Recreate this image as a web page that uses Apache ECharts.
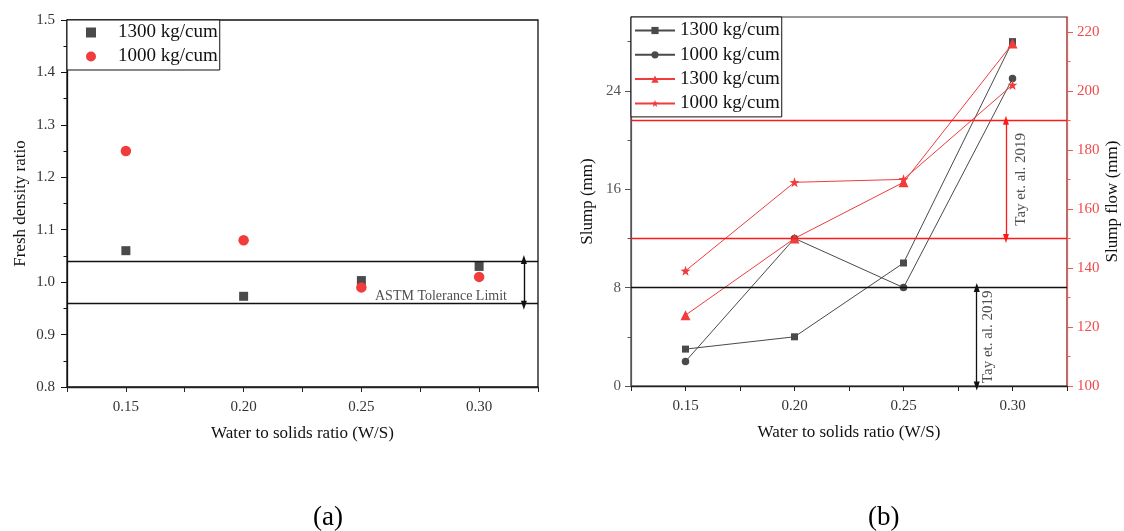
<!DOCTYPE html>
<html>
<head>
<meta charset="utf-8">
<script src="https://cdn.jsdelivr.net/npm/echarts@6/dist/echarts.min.js"></script>
<style>
  html, body { margin: 0; padding: 0; background: #fff; }
  #chart { width: 1124px; height: 531px; }
</style>
</head>
<body>
<div id="chart"></div>
<script>
// Water to solids ratios tested
const wsRatio = [0.15, 0.20, 0.25, 0.30];

// (a) Fresh density ratio
const density1300 = [1.06, 0.973, 1.003, 1.03];
const density1000 = [1.25, 1.08, 0.99, 1.01];
const astmLimits = [0.956, 1.043];

// (b) Slump (mm, left axis) and slump flow (mm, right axis)
const slump1300 = [3, 4, 10, 28];
const slump1000 = [2, 12, 8, 25];
const flow1300 = [124, 150, 169, 216];
const flow1000 = [139, 169, 170, 202];
const tayFlowLimits = [150, 190];
const taySlumpLimit = 8;

// Tick labels
const xTickLabels = [0.15, 0.20, 0.25, 0.30];
const densityTicks = [0.8, 0.9, 1.0, 1.1, 1.2, 1.3, 1.4, 1.5];
const slumpTicks = [0, 8, 16, 24];
const slumpMinorTicks = [4, 12, 20, 28];
const flowTicks = [100, 120, 140, 160, 180, 200, 220];
const flowMinorTicks = [110, 130, 150, 170, 190, 210];

const legendText = {
  d1300: '1300 kg/cum', d1000: '1000 kg/cum',
  s1300: '1300 kg/cum', s1000: '1000 kg/cum',
  f1300: '1300 kg/cum', f1000: '1000 kg/cum'
};

const SERIF = '"Liberation Serif", "Times New Roman", Times, serif';
const GRAY = '#4a4a4a';
const RED = '#f03c3c';
const PURE_RED = '#ff1a1a';
const SQUARE = 'path://M0,0L10,0L10,10L0,10Z';

const pairs = (xs, ys) => xs.map((x, i) => [x, ys[i]]);

const chart = echarts.init(document.getElementById('chart'), null, { renderer: 'canvas' });

function xAxisFor(gridIndex) {
  return {
    type: 'value', gridIndex: gridIndex, min: 0.125, max: 0.325, interval: 0.025,
    name: 'Water to solids ratio (W/S)', nameLocation: 'middle', nameGap: 38,
    nameTextStyle: { fontFamily: SERIF, fontSize: 17, color: '#111' },
    axisLine: { show: true, onZero: false, lineStyle: { color: '#222', width: 1.3 } },
    axisTick: { show: true, inside: false, length: 5, lineStyle: { color: '#222', width: 1 } },
    axisLabel: {
      margin: 13, fontFamily: SERIF, fontSize: 15, color: '#333',
      customValues: xTickLabels,
      formatter: v => v.toFixed(2)
    },
    splitLine: { show: false }
  };
}

function arrowLine(x, y0, y1) {
  return [
    { coord: [x, y0], symbol: 'triangle', symbolSize: [6, 9] },
    { coord: [x, y1], symbol: 'triangle', symbolSize: [6, 9] }
  ];
}

const option = {
  animation: false,
  backgroundColor: '#fff',
  title: [
    { text: '(a)', left: 308, top: 499, textStyle: { fontFamily: SERIF, fontSize: 27, fontWeight: 'normal', color: '#000' } },
    { text: '(b)', left: 863, top: 499, textStyle: { fontFamily: SERIF, fontSize: 27, fontWeight: 'normal', color: '#000' } }
  ],
  grid: [
    { left: 67, top: 20, width: 471, height: 367, outerBoundsMode: 'none', containLabel: false,
      show: true, borderColor: '#111', borderWidth: 1.3, backgroundColor: 'transparent' },
    { left: 631, top: 17, width: 436, height: 369, outerBoundsMode: 'none', containLabel: false,
      show: true, borderColor: '#333', borderWidth: 1.2, backgroundColor: 'transparent' }
  ],
  legend: [
    {
      orient: 'vertical', left: 67, top: 20, itemWidth: 10, itemHeight: 10, itemGap: 5,
      padding: [3, 2, 4, 19],
      borderColor: '#111', borderWidth: 1, backgroundColor: '#fff',
      data: [{ name: 'd1300', icon: 'rect' }, { name: 'd1000', icon: 'circle' }],
      formatter: n => legendText[n],
      textStyle: { fontFamily: SERIF, fontSize: 19, color: '#111', lineHeight: 18, padding: [0, 0, 0, 17] },
      selectedMode: false
    },
    {
      orient: 'vertical', left: 631, top: 17, itemWidth: 40, itemHeight: 9, itemGap: 5.3,
      padding: [4, 2, 4, 3],
      borderColor: '#111', borderWidth: 1, backgroundColor: '#fff',
      data: ['s1300', 's1000', 'f1300', 'f1000'],
      formatter: n => legendText[n],
      textStyle: { fontFamily: SERIF, fontSize: 19, color: '#111', lineHeight: 18 },
      selectedMode: false
    }
  ],
  xAxis: [xAxisFor(0), xAxisFor(1)],
  yAxis: [
    {
      type: 'value', gridIndex: 0, min: 0.8, max: 1.5, interval: 0.1,
      name: 'Fresh density ratio', nameLocation: 'middle', nameGap: 38,
      nameTextStyle: { fontFamily: SERIF, fontSize: 17, color: '#111' },
      axisLine: { show: true, onZero: false, lineStyle: { color: '#111', width: 1.3 } },
      axisTick: { show: true, length: 6, lineStyle: { color: '#111' } },
      minorTick: { show: true, splitNumber: 2, length: 3.5, lineStyle: { color: '#111' } },
      axisLabel: { margin: 12, fontFamily: SERIF, fontSize: 15, color: '#333', customValues: densityTicks, formatter: v => v.toFixed(1) },
      splitLine: { show: false }, minorSplitLine: { show: false }
    },
    {
      type: 'value', gridIndex: 1, min: 0, max: 30, position: 'left',
      name: 'Slump (mm)', nameLocation: 'middle', nameGap: 35,
      nameTextStyle: { fontFamily: SERIF, fontSize: 17, color: '#111' },
      axisLine: { show: true, onZero: false, lineStyle: { color: '#555', width: 1.2 } },
      axisTick: { show: true, length: 6, customValues: slumpTicks, lineStyle: { color: '#555' } },
      axisLabel: { margin: 10, fontFamily: SERIF, fontSize: 15, color: '#555', customValues: slumpTicks },
      splitLine: { show: false }
    },
    {
      type: 'value', gridIndex: 1, min: 100, max: 225, position: 'right',
      name: 'Slump flow (mm)', nameLocation: 'middle', nameGap: 37,
      nameTextStyle: { fontFamily: SERIF, fontSize: 17, color: '#111' },
      axisLine: { show: true, onZero: false, lineStyle: { color: '#f45555', width: 1.2 } },
      axisTick: { show: true, length: 6, customValues: flowTicks, lineStyle: { color: '#f45555' } },
      axisLabel: { margin: 10, fontFamily: SERIF, fontSize: 15, color: '#f04b4b', customValues: flowTicks },
      splitLine: { show: false }
    },
    {
      // short minor ticks for the slump axis
      type: 'value', gridIndex: 1, min: 0, max: 30, position: 'left',
      axisLine: { show: false },
      axisTick: { show: true, length: 3.5, customValues: slumpMinorTicks, lineStyle: { color: '#555' } },
      axisLabel: { show: false }, splitLine: { show: false }
    },
    {
      // short minor ticks for the slump flow axis
      type: 'value', gridIndex: 1, min: 100, max: 225, position: 'right',
      axisLine: { show: false },
      axisTick: { show: true, length: 3.5, customValues: flowMinorTicks, lineStyle: { color: '#f45555' } },
      axisLabel: { show: false }, splitLine: { show: false }
    }
  ],
  series: [
    // ---------- (a) fresh density ratio ----------
    {
      name: 'd1300', type: 'scatter', xAxisIndex: 0, yAxisIndex: 0,
      symbol: 'rect', symbolSize: 9, itemStyle: { color: GRAY, opacity: 1 },
      data: pairs(wsRatio, density1300), z: 3
    },
    {
      name: 'd1000', type: 'scatter', xAxisIndex: 0, yAxisIndex: 0,
      symbol: 'circle', symbolSize: 10.5, itemStyle: { color: RED, opacity: 1 },
      data: pairs(wsRatio, density1000), z: 4
    },
    {
      name: 'astm', type: 'line', xAxisIndex: 0, yAxisIndex: 0, data: [], silent: true,
      markLine: {
        silent: true, animation: false, label: { show: false },
        lineStyle: { color: '#111', width: 1.4, type: 'solid' },
        symbol: ['none', 'none'],
        data: [
          { yAxis: astmLimits[0] },
          { yAxis: astmLimits[1] },
          arrowLine(0.319, astmLimits[0], astmLimits[1])
        ]
      }
    },
    {
      name: 'astmText', type: 'scatter', xAxisIndex: 0, yAxisIndex: 0, silent: true,
      symbolSize: 0, data: [[0.2838, 0.972]],
      label: { show: true, position: 'inside', formatter: 'ASTM Tolerance Limit', fontFamily: SERIF, fontSize: 14, color: '#222' }
    },
    // ---------- (b) slump and slump flow ----------
    {
      name: 's1300', type: 'line', xAxisIndex: 1, yAxisIndex: 1,
      symbol: SQUARE, symbolSize: 7, showSymbol: true,
      itemStyle: { color: GRAY }, lineStyle: { color: GRAY, width: 1 },
      data: pairs(wsRatio, slump1300), z: 3
    },
    {
      name: 's1000', type: 'line', xAxisIndex: 1, yAxisIndex: 1,
      symbol: 'circle', symbolSize: 7.5, showSymbol: true,
      itemStyle: { color: GRAY }, lineStyle: { color: GRAY, width: 1 },
      data: pairs(wsRatio, slump1000), z: 3
    },
    {
      name: 'f1300', type: 'line', xAxisIndex: 1, yAxisIndex: 2,
      symbol: 'triangle', symbolSize: 10, showSymbol: true,
      itemStyle: { color: RED }, lineStyle: { color: RED, width: 1 },
      data: pairs(wsRatio, flow1300), z: 4
    },
    {
      name: 'f1000', type: 'line', xAxisIndex: 1, yAxisIndex: 2,
      symbol: 'path://M0,-10 L2.35,-3.24 L9.51,-3.09 L3.8,1.24 L5.88,8.09 L0,4 L-5.88,8.09 L-3.8,1.24 L-9.51,-3.09 L-2.35,-3.24 Z',
      symbolSize: 10, showSymbol: true,
      itemStyle: { color: RED }, lineStyle: { color: RED, width: 1 },
      data: pairs(wsRatio, flow1000), z: 4
    },
    {
      name: 'tayFlow', type: 'line', xAxisIndex: 1, yAxisIndex: 2, data: [], silent: true,
      markLine: {
        silent: true, animation: false, label: { show: false },
        lineStyle: { color: PURE_RED, width: 1.3, type: 'solid' },
        symbol: ['none', 'none'],
        data: [
          { yAxis: tayFlowLimits[0] },
          { yAxis: tayFlowLimits[1] },
          arrowLine(0.297, tayFlowLimits[0], tayFlowLimits[1])
        ]
      }
    },
    {
      name: 'taySlump', type: 'line', xAxisIndex: 1, yAxisIndex: 1, data: [], silent: true,
      markLine: {
        silent: true, animation: false, label: { show: false },
        lineStyle: { color: '#111', width: 1.3, type: 'solid' },
        symbol: ['none', 'none'],
        data: [
          { yAxis: taySlumpLimit },
          arrowLine(0.2836, 0, taySlumpLimit)
        ]
      }
    },
    {
      name: 'tayFlowText', type: 'scatter', xAxisIndex: 1, yAxisIndex: 2, silent: true,
      symbolSize: 0, data: [[0.3040, 170]],
      label: { show: true, position: 'inside', rotate: 90, formatter: 'Tay et. al. 2019', fontFamily: SERIF, fontSize: 15, color: '#222' }
    },
    {
      name: 'taySlumpText', type: 'scatter', xAxisIndex: 1, yAxisIndex: 1, silent: true,
      symbolSize: 0, data: [[0.2888, 4]],
      label: { show: true, position: 'inside', rotate: 90, formatter: 'Tay et. al. 2019', fontFamily: SERIF, fontSize: 15, color: '#222' }
    }
  ]
};

chart.setOption(option);
</script>
</body>
</html>
